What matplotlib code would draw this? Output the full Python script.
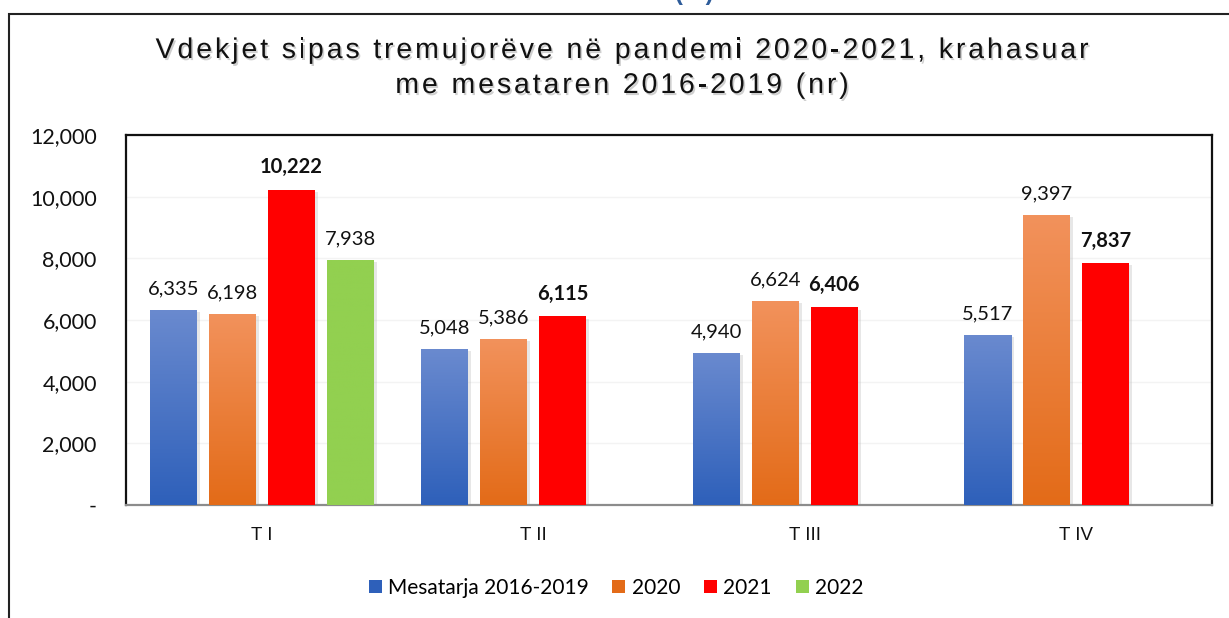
import matplotlib
matplotlib.use("Agg")
import matplotlib.pyplot as plt
import matplotlib.patheffects as pe
import numpy as np
from matplotlib.colors import LinearSegmentedColormap
from matplotlib.patches import Rectangle
from matplotlib.font_manager import FontProperties

# data
quarters = ["T I", "T II", "T III", "T IV"]
series_names = ["Mesatarja 2016-2019", "2020", "2021", "2022"]
avg_2016_2019 = [6335, 5048, 4940, 5517]
deaths_2020 = [6198, 5386, 6624, 9397]
deaths_2021 = [10222, 6115, 6406, 7837]
deaths_2022 = [7938, None, None, None]
yticks = [0, 2000, 4000, 6000, 8000, 10000, 12000]
ytick_labels = ["-", "2,000", "4,000", "6,000", "8,000", "10,000", "12,000"]

title_lines = ["Vdekjet sipas tremujorëve në pandemi 2020-2021, krahasuar",
               "me mesataren 2016-2019 (nr)"]

# (top color, bottom color) of each series
colors = [("#6A8ACF", "#2E60BA"),
          ("#F2925C", "#E36B18"),
          ("#FF0000", "#FF0000"),
          ("#92D050", "#92D050")]
bold = [False, False, True, False]

TICK_FONT = "Lato"

fig = plt.figure(figsize=(12.29, 6.18), dpi=100)
ax = fig.add_axes([126 / 1229, 113 / 618, 1086 / 1229, 370 / 618])

# outer frame of the chart (cut at right and bottom)
frame = Rectangle((9 / 1229, -0.1), 1.2, (618 - 14) / 618 + 0.1,
                  transform=fig.transFigure, fill=False,
                  edgecolor="#222222", linewidth=1.5, zorder=0)
fig.patches.append(frame)

# partly cut text at the very top
fig.text(695 / 1229, 1.0, "(nr)", color="#2E5C9A", fontsize=17,
         fontweight="bold", ha="center", va="baseline",
         family="Liberation Sans")

all_series = [avg_2016_2019, deaths_2020, deaths_2021, deaths_2022]
x = np.arange(len(quarters))
step = 59 / 271.5
width = 47 / 271.5
offsets = (np.arange(4) - 1.5) * step

ax.set_xlim(-0.5, 3.5)
ax.set_ylim(0, 12000)

for i, values in enumerate(all_series):
    top_c, bot_c = colors[i]
    cmap = LinearSegmentedColormap.from_list("g%d" % i, [bot_c, top_c])
    for j, v in enumerate(values):
        if v is None:
            continue
        xc = x[j] + offsets[i]
        bar = ax.bar(xc, v, width, color="none", edgecolor="none",
                     zorder=3)[0]
        shadow = Rectangle((xc - width / 2, 0), width, v, facecolor="none",
                           edgecolor="none", zorder=2)
        shadow.set_path_effects([pe.SimplePatchShadow(offset=(2, -1.5),
                                 shadow_rgbFace="#BBBBBB", alpha=0.35)])
        ax.add_patch(shadow)
        grad = np.linspace(0, 1, 256).reshape(-1, 1)
        im = ax.imshow(grad, cmap=cmap, origin="lower", aspect="auto",
                       extent=[xc - width / 2, xc + width / 2, 0, v],
                       zorder=3)
        im.set_clip_path(bar)
        ax.annotate(f"{v:,}", (xc, v), xytext=(0, 9),
                    textcoords="offset points", ha="center", va="bottom",
                    fontsize=14.5, family=TICK_FONT,
                    fontweight="bold" if bold[i] else "normal",
                    color="#111111")

ax.set_xlim(-0.5, 3.5)
ax.set_ylim(0, 12000)

ax.set_yticks(yticks)
ax.set_yticklabels(ytick_labels, family=TICK_FONT, fontsize=15.5,
                   color="#111111")
ax.set_xticks(x)
ax.set_xticklabels(quarters, family="Liberation Sans", fontsize=13.5,
                   color="#111111")
ax.tick_params(axis="y", length=0, pad=21)
ax.tick_params(axis="x", length=0, pad=16)
ax.grid(axis="y", color="#F3F3F3", linewidth=1, zorder=0)
ax.set_axisbelow(True)
for side in ["top", "left", "right"]:
    ax.spines[side].set_color("#111111")
    ax.spines[side].set_linewidth(1.6)
ax.spines["bottom"].set_color("#8C8C8C")
ax.spines["bottom"].set_linewidth(1.6)

# legend
handles = [Rectangle((0, 0), 1, 1, facecolor=c[1] if k < 2 else c[0],
                     edgecolor="none") for k, c in enumerate(colors)]
fig.legend(handles, series_names, loc="center", ncol=4,
           bbox_to_anchor=(616 / 1229, 1 - 588 / 618), frameon=False,
           prop={"family": TICK_FONT, "size": 15},
           handlelength=0.62, handleheight=0.62, handletextpad=0.3,
           columnspacing=1.15)

# title with letter spacing and a soft shadow
renderer = fig.canvas.get_renderer()
title_size = 20.5
spacing = 2.9
fp = FontProperties(family="Liberation Sans", size=title_size)
line_y = [51, 86]
bar_w = renderer.get_text_width_height_descent("|", fp, ismath=False)[0]
for line, ypix in zip(title_lines, line_y):
    full_w = renderer.get_text_width_height_descent(line, fp, ismath=False)[0]
    total = full_w + spacing * (len(line) - 1)
    x0 = 622 - total / 2
    for k, ch in enumerate(line):
        if ch == " ":
            continue
        pre = renderer.get_text_width_height_descent(line[:k] + "|", fp,
                                                     ismath=False)[0]
        xp = x0 + (pre - bar_w) + spacing * k
        t = fig.text(xp / 1229, 1 - ypix / 618, ch, fontproperties=fp,
                     ha="left", va="center", color="#111111")
        t.set_path_effects([pe.SimplePatchShadow(offset=(1.2, -1.5),
                                                 shadow_rgbFace="#777777",
                                                 alpha=0.35),
                            pe.Normal()])

fig.savefig("out.png", dpi=100)
